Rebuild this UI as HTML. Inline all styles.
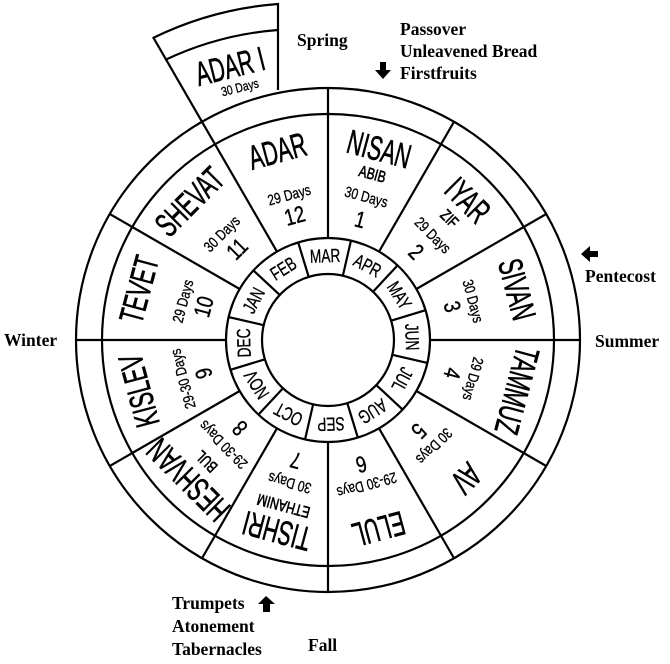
<!DOCTYPE html>
<html><head><meta charset="utf-8"><style>
html,body{margin:0;padding:0;background:#fff;}
svg{display:block;}
.n{font-family:"Liberation Sans",sans-serif;font-size:34px;stroke:#000;stroke-width:0.6;}
.s{font-family:"Liberation Sans",sans-serif;font-size:16px;stroke:#000;stroke-width:0.6;}
.d{font-family:"Liberation Sans",sans-serif;font-size:15px;stroke:#000;stroke-width:0.3;}
.u{font-family:"Liberation Sans",sans-serif;font-size:23px;stroke:#000;stroke-width:0.4;}
.m{font-family:"Liberation Sans",sans-serif;font-size:19px;stroke:#000;stroke-width:0.3;}
.l{font-family:"Liberation Serif",serif;font-size:17.5px;font-weight:bold;}
</style></head><body>
<svg width="670" height="664" viewBox="0 0 670 664" xmlns="http://www.w3.org/2000/svg">
<g fill="none" stroke="#000" stroke-width="2.2">
<circle cx="328" cy="340" r="252"/>
<circle cx="328" cy="340" r="226"/>
<circle cx="328" cy="340" r="102"/>
<circle cx="328" cy="340" r="66"/>
<path d="M153,38 A345,345 0 0 1 278,4 L278,90"/>
<path d="M165,60 A320,320 0 0 1 278,30"/>
</g>
<g transform="translate(328,340)" stroke="#000" stroke-width="2.2">
<line x1="0" y1="-102" x2="0" y2="-252" transform="rotate(0)"/>
<line x1="0" y1="-102" x2="0" y2="-252" transform="rotate(30)"/>
<line x1="0" y1="-102" x2="0" y2="-252" transform="rotate(60)"/>
<line x1="0" y1="-102" x2="0" y2="-252" transform="rotate(90)"/>
<line x1="0" y1="-102" x2="0" y2="-252" transform="rotate(120)"/>
<line x1="0" y1="-102" x2="0" y2="-252" transform="rotate(150)"/>
<line x1="0" y1="-102" x2="0" y2="-252" transform="rotate(180)"/>
<line x1="0" y1="-102" x2="0" y2="-252" transform="rotate(210)"/>
<line x1="0" y1="-102" x2="0" y2="-252" transform="rotate(240)"/>
<line x1="0" y1="-102" x2="0" y2="-252" transform="rotate(270)"/>
<line x1="0" y1="-102" x2="0" y2="-252" transform="rotate(300)"/>
<line x1="0" y1="-102" x2="0" y2="-350" transform="rotate(330)"/>
<line x1="0" y1="-66" x2="0" y2="-102" transform="rotate(-17)"/>
<line x1="0" y1="-66" x2="0" y2="-102" transform="rotate(13)"/>
<line x1="0" y1="-66" x2="0" y2="-102" transform="rotate(43)"/>
<line x1="0" y1="-66" x2="0" y2="-102" transform="rotate(73)"/>
<line x1="0" y1="-66" x2="0" y2="-102" transform="rotate(103)"/>
<line x1="0" y1="-66" x2="0" y2="-102" transform="rotate(133)"/>
<line x1="0" y1="-66" x2="0" y2="-102" transform="rotate(163)"/>
<line x1="0" y1="-66" x2="0" y2="-102" transform="rotate(193)"/>
<line x1="0" y1="-66" x2="0" y2="-102" transform="rotate(223)"/>
<line x1="0" y1="-66" x2="0" y2="-102" transform="rotate(253)"/>
<line x1="0" y1="-66" x2="0" y2="-102" transform="rotate(283)"/>
<line x1="0" y1="-66" x2="0" y2="-102" transform="rotate(313)"/>
</g>
<g transform="translate(328,340)" text-anchor="middle" dominant-baseline="central" fill="#000">
<g transform="rotate(-2)"><text class="m" transform="translate(0,-84) scale(0.72,1)">MAR</text></g>
<g transform="rotate(28)"><text class="m" transform="translate(0,-84) scale(0.72,1)">APR</text></g>
<g transform="rotate(58)"><text class="m" transform="translate(0,-84) scale(0.72,1)">MAY</text></g>
<g transform="rotate(88)"><text class="m" transform="translate(0,-84) scale(0.72,1)">JUN</text></g>
<g transform="rotate(118)"><text class="m" transform="translate(0,-84) scale(0.72,1)">JUL</text></g>
<g transform="rotate(148)"><text class="m" transform="translate(0,-84) scale(0.72,1)">AUG</text></g>
<g transform="rotate(178)"><text class="m" transform="translate(0,-84) scale(0.72,1)">SEP</text></g>
<g transform="rotate(208)"><text class="m" transform="translate(0,-84) scale(0.72,1)">OCT</text></g>
<g transform="rotate(238)"><text class="m" transform="translate(0,-84) scale(0.72,1)">NOV</text></g>
<g transform="rotate(268)"><text class="m" transform="translate(0,-84) scale(0.72,1)">DEC</text></g>
<g transform="rotate(298)"><text class="m" transform="translate(0,-84) scale(0.72,1)">JAN</text></g>
<g transform="rotate(328)"><text class="m" transform="translate(0,-84) scale(0.72,1)">FEB</text></g>

<g transform="rotate(15)">
<text class="n" transform="translate(0,-198) scale(0.62,1)">NISAN</text>
<text class="s" transform="translate(0,-172) scale(0.75,1)">ABIB</text>
<text class="d" transform="translate(0,-148) scale(0.8,1)">30 Days</text>
<text class="u" transform="translate(0,-124) scale(0.8,1)">1</text></g>
<g transform="rotate(45)">
<text class="n" transform="translate(0,-198) scale(0.62,1)">IYAR</text>
<text class="s" transform="translate(0,-172) scale(0.75,1)">ZIF</text>
<text class="d" transform="translate(0,-148) scale(0.8,1)">29 Days</text>
<text class="u" transform="translate(0,-124) scale(0.8,1)">2</text></g>
<g transform="rotate(75)">
<text class="n" transform="translate(0,-196) scale(0.62,1)">SIVAN</text>
<text class="d" transform="translate(0,-150) scale(0.8,1)">30 Days</text>
<text class="u" transform="translate(0,-128) scale(0.8,1)">3</text></g>
<g transform="rotate(105)">
<text class="n" transform="translate(0,-196) scale(0.62,1)">TAMMUZ</text>
<text class="d" transform="translate(0,-150) scale(0.8,1)">29 Days</text>
<text class="u" transform="translate(0,-128) scale(0.8,1)">4</text></g>
<g transform="rotate(135)">
<text class="n" transform="translate(0,-196) scale(0.62,1)">AV</text>
<text class="d" transform="translate(0,-150) scale(0.8,1)">30 Days</text>
<text class="u" transform="translate(0,-128) scale(0.8,1)">5</text></g>
<g transform="rotate(165)">
<text class="n" transform="translate(0,-196) scale(0.62,1)">ELUL</text>
<text class="d" transform="translate(0,-150) scale(0.8,1)">29-30 Days</text>
<text class="u" transform="translate(0,-128) scale(0.8,1)">6</text></g>
<g transform="rotate(195)">
<text class="n" transform="translate(0,-198) scale(0.62,1)">TISHRI</text>
<text class="s" transform="translate(0,-172) scale(0.75,1)">ETHANIM</text>
<text class="d" transform="translate(0,-148) scale(0.8,1)">30 Days</text>
<text class="u" transform="translate(0,-124) scale(0.8,1)">7</text></g>
<g transform="rotate(225)">
<text class="n" transform="translate(0,-198) scale(0.62,1)">HESHVAN</text>
<text class="s" transform="translate(0,-172) scale(0.75,1)">BUL</text>
<text class="d" transform="translate(0,-148) scale(0.8,1)">29-30 Days</text>
<text class="u" transform="translate(0,-124) scale(0.8,1)">8</text></g>
<g transform="rotate(255)">
<text class="n" transform="translate(0,-196) scale(0.62,1)">KISLEV</text>
<text class="d" transform="translate(0,-150) scale(0.8,1)">29-30 Days</text>
<text class="u" transform="translate(0,-128) scale(0.8,1)">9</text></g>
<g transform="rotate(285)">
<text class="n" transform="translate(0,-196) scale(0.62,1)">TEVET</text>
<text class="d" transform="translate(0,-150) scale(0.8,1)">29 Days</text>
<text class="u" transform="translate(0,-128) scale(0.8,1)">10</text></g>
<g transform="rotate(315)">
<text class="n" transform="translate(0,-196) scale(0.62,1)">SHEVAT</text>
<text class="d" transform="translate(0,-150) scale(0.8,1)">30 Days</text>
<text class="u" transform="translate(0,-128) scale(0.8,1)">11</text></g>
<g transform="rotate(345)">
<text class="n" transform="translate(0,-196) scale(0.62,1)">ADAR</text>
<text class="d" transform="translate(0,-150) scale(0.8,1)">29 Days</text>
<text class="u" transform="translate(0,-128) scale(0.8,1)">12</text></g>
</g>
<g text-anchor="middle" dominant-baseline="central">
<text class="n" transform="translate(230,66) rotate(-14) scale(0.62,1)">ADAR I</text>
<text class="d" transform="translate(240,88) rotate(-14) scale(0.8,1)" style="font-size:13px">30 Days</text>
</g>
<g fill="#000">
<text class="l" x="297" y="46">Spring</text>
<text class="l" x="400" y="35">Passover</text>
<text class="l" x="400" y="57">Unleavened Bread</text>
<text class="l" x="400" y="79">Firstfruits</text>
<text class="l" x="585" y="282">Pentecost</text>
<text class="l" x="595" y="347">Summer</text>
<text class="l" x="4" y="346">Winter</text>
<text class="l" x="172" y="609">Trumpets</text>
<text class="l" x="172" y="632">Atonement</text>
<text class="l" x="172" y="655">Tabernacles</text>
<text class="l" x="308" y="651">Fall</text>
<polygon points="380,62 386,62 386,70 391,70 383,79 375,70 380,70"/>
<polygon points="581,254 590,246 590,251 598,251 598,257 590,257 590,262"/>
<polygon points="266,596 275,604 270,604 270,612 263,612 263,604 258,604"/>
</g>
</svg>
</body></html>
